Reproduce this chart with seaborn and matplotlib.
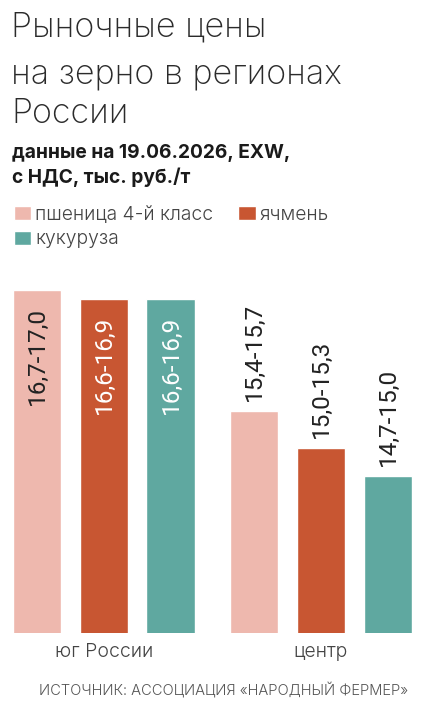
import matplotlib
matplotlib.use("Agg")
import matplotlib.pyplot as plt
from matplotlib.patches import Patch
import seaborn as sns
import pandas as pd

# ---- data ----
regions = ["юг России", "центр"]
crops = ["пшеница 4-й класс", "ячмень", "кукуруза"]
low_south = [16.7, 16.6, 16.6]
high_south = [17.0, 16.9, 16.9]
low_centre = [15.4, 15.0, 14.7]
high_centre = [15.7, 15.3, 15.0]
colors = ["#EEB8AE", "#C85632", "#5FA8A0"]

title_lines = ["Рыночные цены", "на зерно в регионах", "России"]
subtitle_lines = ["данные на 19.06.2026, EXW,", "с НДС, тыс. руб./т"]
source = "ИСТОЧНИК: АССОЦИАЦИЯ «НАРОДНЫЙ ФЕРМЕР»"

rows = []
for reg, lows, highs in [(regions[0], low_south, high_south), (regions[1], low_centre, high_centre)]:
    for c, lo, hi in zip(crops, lows, highs):
        rows.append({"region": reg, "crop": c, "low": lo, "high": hi,
                     "label": f"{lo:.1f}-{hi:.1f}".replace(".", ",")})
df = pd.DataFrame(rows)

sns.set_theme(style="white")
plt.rcParams["font.family"] = ["Roboto", "DejaVu Sans"]
LIGHT = ["Inter", "DejaVu Sans"]

W, H = 423, 705
fig = plt.figure(figsize=(W / 100, H / 100), dpi=100)
fig.patch.set_facecolor("white")

ax_bottom, ax_top = 633, 285
ax = fig.add_axes([0, 1 - ax_bottom / H, 1, (ax_bottom - ax_top) / H])

sns.barplot(data=df, x="region", y="high", hue="crop", order=regions, hue_order=crops,
            palette=colors, width=0.926, gap=0.27, saturation=1, legend=False, ax=ax)

ax.set_xlim(-0.479, 1.470)
ybase = 13.31
ax.set_ylim(ybase, ybase + (ax_bottom - ax_top) / 93.0)
for s in ax.spines.values():
    s.set_visible(False)
ax.set_yticks([])
ax.set_xlabel("")
ax.set_ylabel("")
ax.tick_params(axis="x", length=0, pad=7)
for t in ax.get_xticklabels():
    t.set_fontsize(14)
    t.set_color("#444444")
    t.set_fontweight(300)
    t.set_family(LIGHT)

# value labels
bars = ax.patches
label_map = {(r["region"], r["crop"]): r["label"] for _, r in df.iterrows()}
idx = 0
for hi_i, crop in enumerate(crops):
    for reg_i, reg in enumerate(regions):
        p = bars[idx]
        idx += 1
        xc = p.get_x() + p.get_width() / 2
        top = p.get_height() + p.get_y()
        lab = label_map[(reg, crop)]
        if reg_i == 0:
            col = "#222222" if hi_i == 0 else "white"
            ax.annotate(lab, (xc, top), xytext=(0, -17), textcoords="offset pixels",
                        rotation=90, ha="center", va="top", fontsize=17.5, color=col)
        else:
            ax.annotate(lab, (xc, top), xytext=(0, 10), textcoords="offset pixels",
                        rotation=90, ha="center", va="bottom", fontsize=17.5, color="#222222")

# title
for line, base in zip(title_lines, [37, 83, 123]):
    fig.text(11 / W, 1 - base / H, line, fontsize=24.5, fontweight=200,
             color="#2b2b2b", va="baseline", ha="left", family=LIGHT)
for line, base in zip(subtitle_lines, [158, 183]):
    fig.text(12 / W, 1 - base / H, line, fontsize=13.8, fontweight="bold",
             color="#1a1a1a", va="baseline", ha="left", family=["Inter", "DejaVu Sans"])

handles = [Patch(facecolor=colors[0]), Patch(facecolor=colors[2]), Patch(facecolor=colors[1])]
labels = [crops[0], crops[2], crops[1]]
leg = fig.legend(handles, labels, ncol=2, loc="upper left", bbox_to_anchor=(6 / W, 1 - 198 / H),
                 frameon=False, handlelength=0.9, handleheight=0.75, handletextpad=0.2,
                 columnspacing=1.3, labelspacing=0.35, borderaxespad=0,
                 prop={"size": 13.9, "weight": 300, "family": LIGHT})
for t in leg.get_texts():
    t.set_color("#444444")

fig.text(224 / W, 1 - 696 / H, source, fontsize=10.6, fontweight=300, color="#555555",
         ha="center", va="baseline", family=LIGHT)

fig.savefig("out.png", dpi=100, facecolor="white")
